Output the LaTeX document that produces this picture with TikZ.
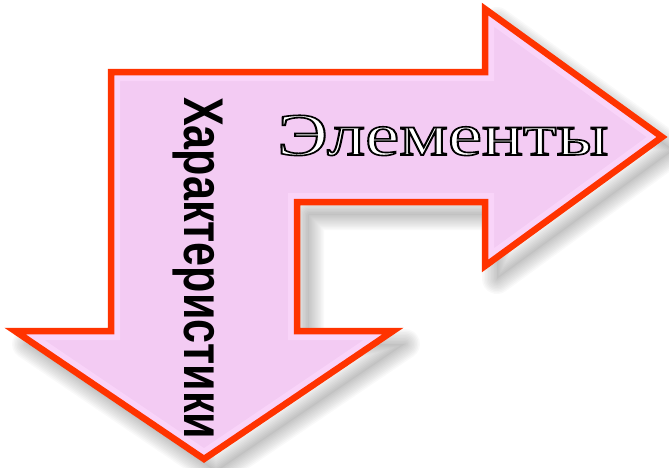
\documentclass[tikz,border=0pt]{standalone}
\usepackage{fontspec}
\setmainfont{Liberation Serif}
\newfontfamily\charfont{Liberation Sans}

\definecolor{arrowpink}{RGB}{243,203,243}
\definecolor{arrowglow}{RGB}{252,216,252}
\definecolor{arrowred}{RGB}{255,51,0}

% outline of the bent double arrow (pixel units, y down)
\newcommand{\bentarrow}{(111,72) -- (485,72) -- (485,9) -- (662,137) -- (485,266)
  -- (485,202) -- (297,202) -- (297,331) -- (393,331) -- (204,459) -- (15,331)
  -- (111,331) -- cycle}
% hollow letters: white fill, black stroke
\newcommand{\hollow}[1]{{\color{white}\special{pdf:literal direct 2 Tr 1.6 w 0 G}#1\special{pdf:literal direct 0 Tr}}}

\begin{document}
\begin{tikzpicture}[x=1pt,y=-1pt]
  \useasboundingbox (0,0) rectangle (669,467);
  % soft shadow
  \begin{scope}[shift={(12,13)}]
    \fill[black,opacity=0.03] \bentarrow;
    \foreach \w in {3,6,...,30} {
      \draw[black,opacity=0.022,line width=\w pt,line join=round] \bentarrow;
    }
  \end{scope}
  \fill[arrowpink] \bentarrow;
  \begin{scope}
    \clip \bentarrow;
    \draw[arrowglow,opacity=0.7,line width=18pt] \bentarrow;
  \end{scope}
  \draw[arrowred,line width=6.5pt,line join=miter] \bentarrow;
  \node[inner sep=0,anchor=base west] (elem) at (277,155)
    {\scalebox{1.28}[1]{\fontsize{60}{60}\selectfont\hollow{Элементы}}};
  \node[inner sep=0,anchor=base west,rotate=-90] (char) at (184,97)
    {\scalebox{0.77}[1]{\charfont\bfseries\fontsize{56}{56}\selectfont Характеристики}};
\end{tikzpicture}
\end{document}
